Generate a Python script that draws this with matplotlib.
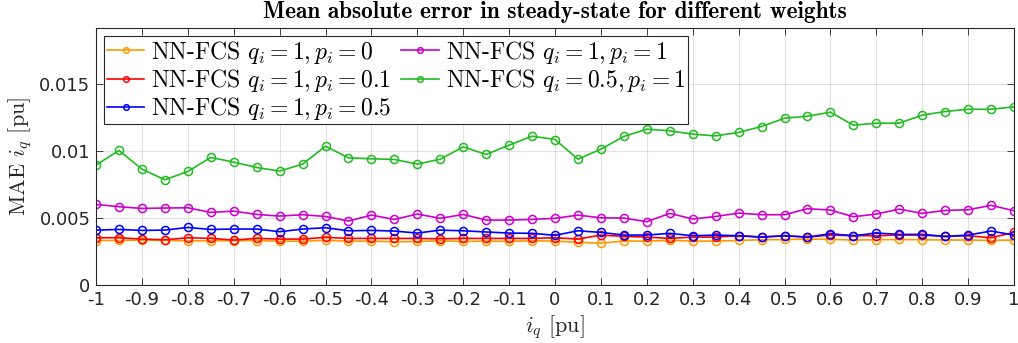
import numpy as np
import matplotlib
matplotlib.use("Agg")
import matplotlib.pyplot as plt

plt.rcParams["mathtext.fontset"] = "cm"
plt.rcParams["axes.unicode_minus"] = False
plt.rcParams["font.family"] = "DejaVu Sans"

iq = np.round(np.arange(-1, 1.0001, 0.05), 2)

mae_p0 = [0.00332, 0.00333, 0.00335, 0.00333, 0.00330, 0.00330, 0.00332, 0.00332, 0.00327, 0.00327, 0.00334,
          0.00328, 0.00328, 0.00323, 0.00325, 0.00330, 0.00325, 0.00328, 0.00326, 0.00330,
          0.00328, 0.00319, 0.00313, 0.00328, 0.00328, 0.00333, 0.00328, 0.00328, 0.00333, 0.00338,
          0.00340, 0.00343, 0.00341, 0.00336, 0.00338, 0.00340, 0.00338, 0.00336, 0.00336, 0.00333, 0.00336]
mae_p01 = [0.00353, 0.00353, 0.00343, 0.00338, 0.00353, 0.00348, 0.00336, 0.00348, 0.00343, 0.00343, 0.00356,
           0.00348, 0.00348, 0.00348, 0.00348, 0.00345, 0.00348, 0.00348, 0.00348, 0.00348,
           0.00353, 0.00343, 0.00373, 0.00363, 0.00358, 0.00348, 0.00358, 0.00358, 0.00368, 0.00358,
           0.00368, 0.00358, 0.00373, 0.00368, 0.00368, 0.00373, 0.00373, 0.00363, 0.00368, 0.00353, 0.00393]
mae_p05 = [0.00410, 0.00415, 0.00408, 0.00410, 0.00430, 0.00415, 0.00418, 0.00418, 0.00398, 0.00418, 0.00428,
           0.00405, 0.00408, 0.00403, 0.00388, 0.00410, 0.00405, 0.00396, 0.00388, 0.00386,
           0.00371, 0.00405, 0.00393, 0.00373, 0.00373, 0.00386, 0.00368, 0.00373, 0.00368, 0.00358,
           0.00368, 0.00358, 0.00383, 0.00368, 0.00388, 0.00378, 0.00378, 0.00363, 0.00373, 0.00403, 0.00373]
mae_p1 = [0.00602, 0.00585, 0.00572, 0.00575, 0.00577, 0.00542, 0.00552, 0.00527, 0.00515, 0.00525, 0.00512,
          0.00478, 0.00522, 0.00490, 0.00530, 0.00498, 0.00527, 0.00485, 0.00485, 0.00490,
          0.00498, 0.00522, 0.00502, 0.00500, 0.00473, 0.00535, 0.00493, 0.00512, 0.00537, 0.00525,
          0.00525, 0.00570, 0.00560, 0.00510, 0.00530, 0.00567, 0.00535, 0.00557, 0.00562, 0.00595, 0.00555]
mae_q05 = [0.00896, 0.01005, 0.00866, 0.00786, 0.00848, 0.00953, 0.00918, 0.00878, 0.00851, 0.00903, 0.01037,
           0.00950, 0.00943, 0.00938, 0.00903, 0.00940, 0.01032, 0.00975, 0.01045, 0.01112,
           0.01087, 0.00940, 0.01015, 0.01110, 0.01164, 0.01152, 0.01127, 0.01114, 0.01140, 0.01184,
           0.01246, 0.01261, 0.01291, 0.01194, 0.01209, 0.01209, 0.01269, 0.01296, 0.01313, 0.01313, 0.01331]

labels = [r"NN-FCS $q_i = 1, p_i = 0$",
          r"NN-FCS $q_i = 1, p_i = 0.1$",
          r"NN-FCS $q_i = 1, p_i = 0.5$",
          r"NN-FCS $q_i = 1, p_i = 1$",
          r"NN-FCS $q_i = 0.5, p_i = 1$"]
colors = ["#ff9900", "#ff0000", "#0000ff", "#cc00cc", "#22bb22"]
series = [mae_p0, mae_p01, mae_p05, mae_p1, mae_q05]

fig = plt.figure(figsize=(10.18, 3.43), dpi=100)
ax = fig.add_axes([96 / 1018, 58 / 343, 918 / 1018, 257 / 343])

for y, c, lab in zip(series, colors, labels):
    ax.plot(iq, y, color=c, lw=1.2, marker="o", ms=5.8, mfc="none", mew=1.1, label=lab)

ax.set_xlim(-1, 1)
ax.set_ylim(0, 0.0192)
ax.set_xticks(np.round(np.arange(-1, 1.0001, 0.1), 1))
ax.set_xticklabels(["-1", "-0.9", "-0.8", "-0.7", "-0.6", "-0.5", "-0.4", "-0.3", "-0.2", "-0.1", "0",
                    "0.1", "0.2", "0.3", "0.4", "0.5", "0.6", "0.7", "0.8", "0.9", "1"])
ax.set_yticks([0, 0.005, 0.01, 0.015])
ax.set_yticklabels(["0", "0.005", "0.01", "0.015"])
ax.tick_params(direction="in", top=True, right=True, labelsize=13, color="#262626",
               labelcolor="#262626", length=5, width=0.6, pad=4)
ax.grid(True, color="#262626", alpha=0.13, lw=0.8)
for s in ax.spines.values():
    s.set_color("#262626")
    s.set_linewidth(0.8)

ax.set_xlabel(r"$i_q$ [pu]", family="cmr10", fontsize=16, color="#262626", labelpad=3)
ax.set_ylabel(r"MAE $i_q$ [pu]", family="cmr10", fontsize=16, color="#262626", labelpad=4)
ax.set_title("Mean absolute error in steady-state for different weights", family="cmb10",
             fontsize=16.8, pad=7)

leg = ax.legend(loc="upper left", ncol=2, prop={"family": "cmr10", "size": 17},
                handlelength=1.6, handletextpad=0.3, columnspacing=0.4, labelspacing=0.05,
                borderpad=0.1, borderaxespad=0.35, fancybox=False, framealpha=1,
                edgecolor="#262626", markerscale=0.7)
leg.get_frame().set_linewidth(0.8)

fig.savefig("out.png", dpi=100)
